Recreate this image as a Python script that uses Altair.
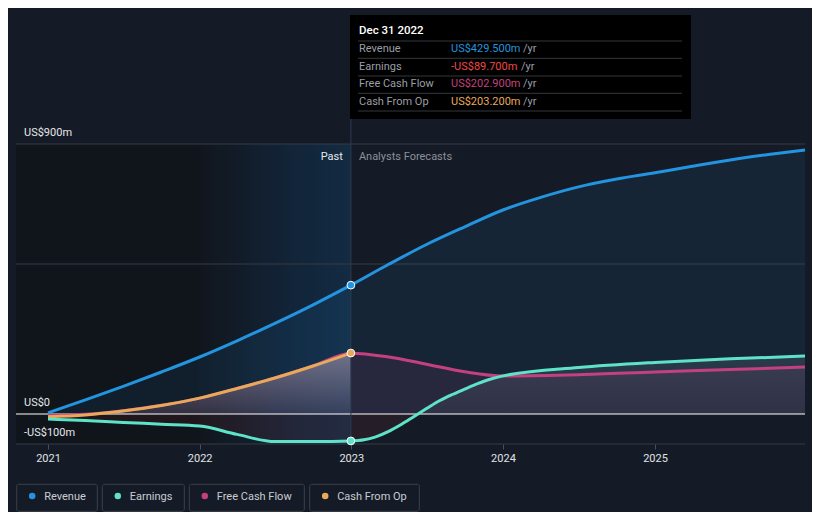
import altair as alt
import pandas as pd

# ---------------- data ----------------
rev_dates = ["2021-01-01", "2021-04-01", "2021-07-01", "2021-10-01", "2022-01-01",
             "2022-04-01", "2022-07-01", "2022-10-01", "2022-12-31", "2023-04-01",
             "2023-07-01", "2023-10-01", "2024-01-01", "2024-04-01", "2024-07-01",
             "2024-10-01", "2025-01-01", "2025-04-01", "2025-07-01", "2025-10-01",
             "2025-12-28"]
rev_vals = [4, 47, 92, 140, 190, 244, 302, 364, 429.5, 499, 565, 624, 680, 722, 757,
            783, 804, 826, 847, 865, 880]

earn_dates = ["2021-01-01", "2021-04-01", "2021-07-01", "2021-10-01", "2022-01-01",
              "2022-04-01", "2022-07-01", "2022-10-01", "2022-12-31", "2023-02-01",
              "2023-03-01", "2023-04-01", "2023-05-01", "2023-06-01", "2023-07-01",
              "2023-08-01", "2023-09-01", "2023-10-01", "2023-11-01", "2023-12-01",
              "2024-01-01", "2024-07-01", "2025-01-01", "2025-07-01", "2025-12-28"]
earn_vals = [-17, -22, -28, -34, -40, -68, -92, -92, -89.7, -86, -76, -58, -35, -8, 18,
             44, 65, 83, 101, 116, 127, 155, 172, 184, 193]

fcf_dates = ["2021-01-01", "2021-04-01", "2021-07-01", "2021-10-01", "2022-01-01",
             "2022-04-01", "2022-07-01", "2022-10-01", "2022-12-31", "2023-04-01",
             "2023-07-01", "2023-10-01", "2024-01-01", "2024-07-01", "2025-01-01",
             "2025-07-01", "2025-12-28"]
fcf_vals = [-5, -1, 11, 29, 53, 85, 120, 160, 202.9, 190, 166, 141, 127, 131, 140, 148, 157]

cfo_dates = ["2021-01-01", "2021-04-01", "2021-07-01", "2021-10-01", "2022-01-01",
             "2022-04-01", "2022-07-01", "2022-10-01", "2022-12-31"]
cfo_vals = [-9, -3, 10, 28, 53, 85, 120, 160, 203.2]

series_names = ["Revenue", "Earnings", "Free Cash Flow", "Cash From Op"]
series_colors = ["#2394df", "#5fe3c8", "#c4407f", "#e8a95a"]
tooltip_title = "Dec 31 2022"
tooltip_values = ["US$429.500m", "-US$89.700m", "US$202.900m", "US$203.200m"]
tooltip_value_colors = ["#2394df", "#f04848", "#c4407f", "#e8a95a"]
y_tick_values = [900, 0, -100]
y_tick_labels = ["US$900m", "US$0", "-US$100m"]
grid_values = [900, 500, -100]
x_years = ["2021-01-01", "2022-01-01", "2023-01-01", "2024-01-01", "2025-01-01"]
x_start = "2020-10-16"
x_end = "2025-12-28"
past_split = "2022-01-01"
today = "2022-12-31"

FONT = "Roboto"
BG = "#151b26"


def ts(d):
    return d + "T00:00:00"


def frame(dates, vals):
    return pd.DataFrame({"date": [ts(d) for d in dates], "v": vals})


rev = frame(rev_dates, rev_vals)
earn = frame(earn_dates, earn_vals)
fcf = frame(fcf_dates, fcf_vals)
cfo = frame(cfo_dates, cfo_vals)
earn["pos"] = earn["v"].clip(lower=0)
earn["neg"] = earn["v"].clip(upper=0)

xscale = alt.Scale(domain=[ts(x_start), ts(x_end)])
yscale = alt.Scale(domain=[-100, 900])
Xn = alt.X("date:T", scale=xscale, title=None,
           axis=alt.Axis(values=[ts(d) for d in x_years], format="%Y", labelColor="#e0e3e7",
                         labelFont=FONT, labelFontSize=11, tickColor="#4a505a", tickSize=5,
                         domain=False, grid=False, labelPadding=3))
Yv = alt.Y("v:Q", scale=yscale, axis=None)
one = pd.DataFrame({"a": [0]})

layers = []

# background bands (past region)
band = pd.DataFrame({"date": [ts(x_start), ts(past_split)], "top": [900, 900], "bot": [-100, -100]})
layers.append(alt.Chart(band).mark_area(color="#10141b").encode(
    x=Xn, y=alt.Y("top:Q", scale=yscale, axis=None), y2="bot:Q"))
hl = pd.DataFrame({"date": [ts(past_split), ts(today)], "top": [900, 900], "bot": [-100, -100]})
layers.append(alt.Chart(hl).mark_area(
    color=alt.Gradient(gradient="linear", x1=0, x2=1, y1=0, y2=0,
                       stops=[alt.GradientStop(color="#11161d", offset=0),
                              alt.GradientStop(color="#122438", offset=0.6),
                              alt.GradientStop(color="#132b42", offset=1)])).encode(
    x=Xn, y=alt.Y("top:Q", scale=yscale, axis=None), y2="bot:Q"))

# grid lines
layers.append(alt.Chart(pd.DataFrame({"g": grid_values})).mark_rule(
    color="#363b44", strokeWidth=1).encode(y=alt.Y("g:Q", scale=yscale, axis=None)))

# areas
layers.append(alt.Chart(rev).mark_area(color="#2394df", opacity=0.09, interpolate="monotone").encode(
    x=Xn, y=Yv, y2=alt.datum(0)))
layers.append(alt.Chart(fcf).mark_area(color="#c4407f", opacity=0.10, interpolate="monotone").encode(
    x=Xn, y=Yv, y2=alt.datum(0)))
layers.append(alt.Chart(cfo).mark_area(
    interpolate="monotone",
    color=alt.Gradient(gradient="linear", x1=0, x2=0, y1=0, y2=1,
                       stops=[alt.GradientStop(color="rgba(235,215,225,0.38)", offset=0),
                              alt.GradientStop(color="rgba(235,215,225,0.06)", offset=1)])).encode(
    x=Xn, y=Yv, y2=alt.datum(0)))
layers.append(alt.Chart(earn).mark_area(
    interpolate="monotone",
    color=alt.Gradient(gradient="linear", x1=0, x2=0, y1=0, y2=1,
                       stops=[alt.GradientStop(color="rgba(200,215,230,0.12)", offset=0),
                              alt.GradientStop(color="rgba(200,215,230,0.05)", offset=1)])).encode(
    x=Xn, y=alt.Y("pos:Q", scale=yscale, axis=None), y2=alt.datum(0)))
layers.append(alt.Chart(earn).mark_area(color="#e64444", opacity=0.08, interpolate="monotone").encode(
    x=Xn, y=alt.Y("neg:Q", scale=yscale, axis=None), y2=alt.datum(0)))

# zero line
layers.append(alt.Chart(pd.DataFrame({"z": [0]})).mark_rule(color="#ffffff", strokeWidth=1).encode(
    y=alt.Y("z:Q", scale=yscale, axis=None)))

# vertical "today" line
layers.append(alt.Chart(pd.DataFrame({"date": [ts(today)]})).mark_rule(
    color="#2c3b4d", strokeWidth=1).encode(x=Xn, y=alt.value(-129), y2=alt.value(300)))

# lines
for df, col in [(rev, series_colors[0]), (fcf, series_colors[2]), (cfo, series_colors[3]),
                (earn, series_colors[1])]:
    layers.append(alt.Chart(df).mark_line(color=col, strokeWidth=3, interpolate="monotone").encode(
        x=Xn, y=Yv))

# points at Dec 31 2022
for val, col in [(rev_vals[8], series_colors[0]), (cfo_vals[8], series_colors[3]),
                 (earn_vals[8], series_colors[1])]:
    layers.append(alt.Chart(pd.DataFrame({"date": [ts(today)], "v": [val]})).mark_point(
        filled=True, size=60, fill=col, stroke="#ffffff", strokeWidth=1, opacity=1).encode(
        x=Xn, y=Yv))

# y tick labels
layers.append(alt.Chart(pd.DataFrame({"v": y_tick_values, "t": y_tick_labels})).mark_text(
    align="left", baseline="alphabetic", dy=-8, font=FONT, fontSize=11, color="#e6e8eb").encode(
    x=alt.value(8), y=Yv, text="t:N"))

# Past / Analysts Forecasts
tdf = pd.DataFrame({"date": [ts(today)]})
layers.append(alt.Chart(tdf).mark_text(text="Past", align="right", baseline="middle", dx=-8, dy=1,
                                       font=FONT, fontSize=11, color="#e6e8eb").encode(
    x=Xn, y=alt.value(12)))
layers.append(alt.Chart(tdf).mark_text(text="Analysts Forecasts", align="left", baseline="middle",
                                       dx=8, dy=1, font=FONT, fontSize=11, color="#8b9099").encode(
    x=Xn, y=alt.value(12)))

# tooltip box
layers.append(alt.Chart(one).mark_rect(color="#000000").encode(
    x=alt.value(334), x2=alt.value(675), y=alt.value(-129), y2=alt.value(-25)))
for yy in [-103, -85.7, -68, -50.7, -33]:
    layers.append(alt.Chart(one).mark_rule(color="#34373c", strokeWidth=1).encode(
        x=alt.value(342), x2=alt.value(666), y=alt.value(yy)))
layers.append(alt.Chart(one).mark_text(text=tooltip_title, align="left", baseline="middle",
                                       font=FONT, fontSize=11.5, fontWeight=500,
                                       color="#ffffff").encode(
    x=alt.value(343), y=alt.value(-113)))
row_y = [-95, -77.3, -59.7, -42.3]
yr_x = [507, 505, 507, 507]
for i in range(4):
    layers.append(alt.Chart(one).mark_text(text=series_names[i], align="left", baseline="middle",
                                           font=FONT, fontSize=11, color="#9a9ea6").encode(
        x=alt.value(343), y=alt.value(row_y[i])))
    layers.append(alt.Chart(one).mark_text(text=tooltip_values[i], align="left", baseline="middle",
                                           font=FONT, fontSize=11, color=tooltip_value_colors[i]).encode(
        x=alt.value(435), y=alt.value(row_y[i])))
    layers.append(alt.Chart(one).mark_text(text="/yr", align="left", baseline="middle",
                                           font=FONT, fontSize=11, color="#9a9ea6").encode(
        x=alt.value(yr_x[i]), y=alt.value(row_y[i])))

# legend
box_x = [(0.7, 81.3), (86.3, 168.3), (173.3, 288.3), (293.7, 403.3)]
for i in range(4):
    x0, x1 = box_x[i]
    layers.append(alt.Chart(one).mark_rect(fill=BG, stroke="#3b4049", strokeWidth=1,
                                           cornerRadius=2).encode(
        x=alt.value(x0), x2=alt.value(x1), y=alt.value(340.3), y2=alt.value(367.3)))
    layers.append(alt.Chart(one).mark_point(filled=True, size=42, fill=series_colors[i],
                                            opacity=1).encode(
        x=alt.value(x0 + 15.5), y=alt.value(352)))
    layers.append(alt.Chart(one).mark_text(text=series_names[i], align="left", baseline="middle",
                                           font=FONT, fontSize=11, color="#c9cdd3").encode(
        x=alt.value(x0 + 27.5), y=alt.value(352.5)))

chart = alt.layer(*layers).properties(
    width=789, height=300,
    padding={"left": 8, "top": 136, "right": 7, "bottom": 68},
    autosize=alt.AutoSizeParams(type="none"),
    background=BG,
).configure_view(stroke=None)

chart.save("out.html", embed_options={"renderer": "svg", "actions": False})
